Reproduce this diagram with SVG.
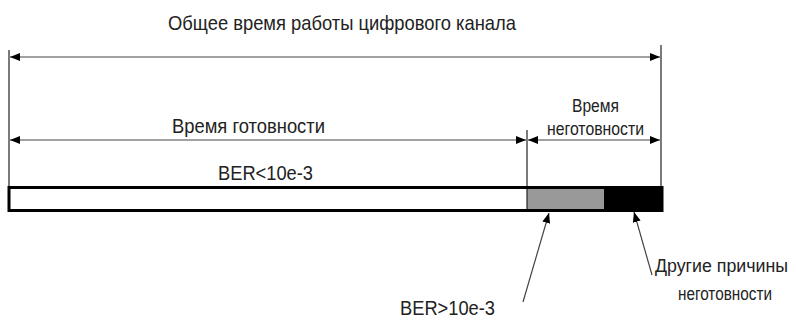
<svg xmlns="http://www.w3.org/2000/svg" width="796" height="326" viewBox="0 0 796 326">
<style>
text{font-family:"Liberation Sans",Arial,sans-serif;fill:#222}
.ln{stroke:#444;stroke-width:1.2;fill:none}
.vl{stroke:#222;stroke-width:1.2;fill:none}
</style>
<defs>
<marker id="ah" viewBox="0 0 10 8" refX="10" refY="4" markerWidth="10" markerHeight="8" markerUnits="userSpaceOnUse" orient="auto-start-reverse">
<path d="M0,0 L10,4 L0,8 z" fill="#000"/>
</marker>
</defs>
<g id="connectors">
<line class="vl" x1="9" y1="50" x2="9" y2="188"/>
<line class="vl" x1="661" y1="45" x2="661" y2="188"/>
<line class="vl" x1="527" y1="130" x2="527" y2="210"/>
<line class="ln" x1="10" y1="57" x2="660" y2="57" marker-start="url(#ah)" marker-end="url(#ah)"/>
<line class="ln" x1="10" y1="140" x2="526" y2="140" marker-start="url(#ah)" marker-end="url(#ah)"/>
<line class="ln" x1="528" y1="140" x2="660" y2="140" marker-start="url(#ah)" marker-end="url(#ah)"/>
<line class="ln" x1="523" y1="302" x2="549" y2="213" marker-end="url(#ah)"/>
<line class="ln" x1="652" y1="275" x2="634" y2="212" marker-end="url(#ah)"/>
</g>
<g id="bar">
<rect x="9" y="187.5" width="653" height="23" fill="#fff" stroke="#000" stroke-width="3"/>
<rect x="527" y="189" width="77" height="20" fill="#999"/>
<rect x="604" y="189" width="57" height="20" fill="#000"/>
<line class="vl" x1="527" y1="189" x2="527" y2="209"/>
</g>
<g id="labels">
<text x="168" y="30" font-size="21" textLength="348" lengthAdjust="spacingAndGlyphs">Общее время работы цифрового канала</text>
<text x="172" y="133" font-size="21" textLength="153" lengthAdjust="spacingAndGlyphs">Время готовности</text>
<text x="218" y="180" font-size="21" textLength="95" lengthAdjust="spacingAndGlyphs">BER&lt;10e-3</text>
<text x="572" y="112" font-size="18" textLength="47" lengthAdjust="spacingAndGlyphs">Время</text>
<text x="547" y="135" font-size="18" textLength="97" lengthAdjust="spacingAndGlyphs">неготовности</text>
<text x="400" y="315" font-size="20" textLength="95" lengthAdjust="spacingAndGlyphs">BER&gt;10e-3</text>
<text x="655" y="272" font-size="18" textLength="133" lengthAdjust="spacingAndGlyphs">Другие причины</text>
<text x="678" y="300" font-size="18" textLength="94" lengthAdjust="spacingAndGlyphs">неготовности</text>
</g>
</svg>
